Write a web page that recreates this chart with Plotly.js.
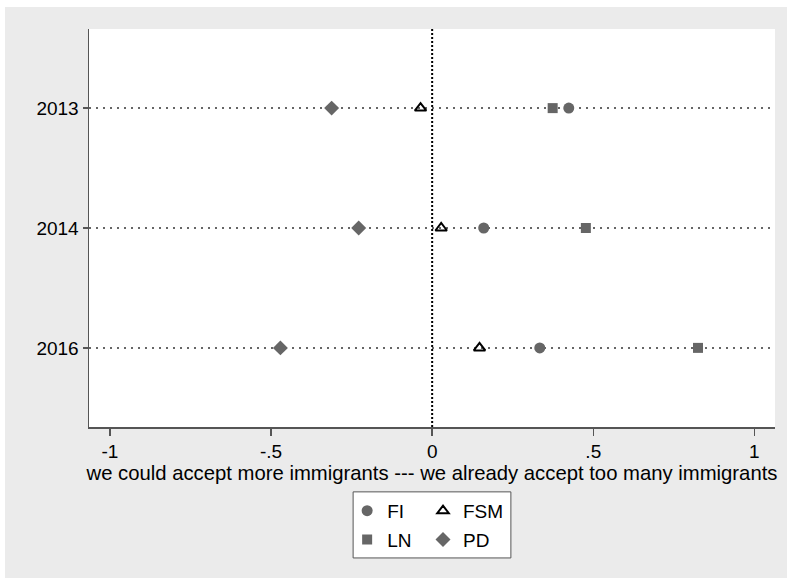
<!DOCTYPE html>
<html>
<head>
<meta charset="utf-8">
<script src="https://cdn.plot.ly/plotly-3.0.1.min.js"></script>
<style>
html, body { margin: 0; padding: 0; background: #ffffff; width: 787px; height: 578px; overflow: hidden; }
#chart { position: absolute; left: 5px; top: 7px; width: 782px; height: 571px; }
</style>
</head>
<body>
<div id="chart"></div>
<script>
// Data
const years = ["2013", "2014", "2016"];
const fiValues = [0.424, 0.160, 0.334];
const fsmValues = [-0.036, 0.028, 0.147];
const lnValues = [0.374, 0.477, 0.825];
const pdValues = [-0.312, -0.228, -0.471];
const xTickVals = [-1, -0.5, 0, 0.5, 1];
const xTickText = ["-1", "-.5", "0", ".5", "1"];
const xTitle = "we could accept more immigrants --- we already accept too many immigrants";

const FONT = "Liberation Sans, Arial, Helvetica, sans-serif";
const GRAY = "#666666";

const traces = [
  { name: "FI", x: fiValues, y: years, type: "scatter", mode: "markers", legend: "legend", legendgroup: "fi",
    marker: { symbol: "circle", size: 11, color: GRAY } },
  { name: "FSM", x: fsmValues, y: years, type: "scatter", mode: "markers", legend: "legend2", legendgroup: "fsm",
    marker: { symbol: "triangle-up-open", size: 10, color: "#000000", line: { width: 2, color: "#000000" } } },
  { name: "LN", x: lnValues, y: years, type: "scatter", mode: "markers", legend: "legend", legendgroup: "ln",
    marker: { symbol: "square", size: 10, color: GRAY } },
  { name: "PD", x: pdValues, y: years, type: "scatter", mode: "markers", legend: "legend2", legendgroup: "pd",
    marker: { symbol: "diamond", size: 11.5, color: GRAY } }
];

const layout = {
  width: 782, height: 571,
  paper_bgcolor: "#ebebeb",
  plot_bgcolor: "#ffffff",
  margin: { l: 84, r: 12, t: 22, b: 151 },
  font: { family: FONT, size: 19, color: "#000000" },
  xaxis: {
    range: [-1.065, 1.064],
    tickvals: xTickVals, ticktext: xTickText,
    showgrid: false, zeroline: false,
    showline: true, linecolor: "#555555", linewidth: 1.5,
    ticks: "outside", ticklen: 7, tickcolor: "#555555", tickwidth: 1.5,
    tickfont: { family: FONT, size: 19, color: "#000000" },
    title: { text: xTitle, font: { family: FONT, size: 20.3, color: "#000000" }, standoff: 0 }
  },
  yaxis: {
    type: "category",
    categoryorder: "array", categoryarray: years,
    range: [2.66, -0.66],
    showgrid: true, gridcolor: "#666666", gridwidth: 2, griddash: "2px,5px",
    zeroline: false,
    showline: true, linecolor: "#555555", linewidth: 1.5,
    ticks: "outside", ticklen: 5, tickcolor: "#555555", tickwidth: 1.5,
    tickfont: { family: FONT, size: 19, color: "#000000" }
  },
  shapes: [
    { type: "line", xref: "x", yref: "paper", x0: 0, x1: 0, y0: 0, y1: 1,
      line: { color: "#000000", width: 2, dash: "2px,2px" }, layer: "below" },
    { type: "rect", xref: "paper", yref: "paper", x0: 0.385, x1: 0.615, y0: -0.329, y1: -0.163,
      fillcolor: "#ffffff", line: { color: "#555555", width: 1 }, layer: "below" }
  ],
  showlegend: true,
  legend: {
    x: 0.3763, xanchor: "left", y: -0.163, yanchor: "top",
    bgcolor: "rgba(0,0,0,0)", borderwidth: 0,
    font: { family: FONT, size: 19, color: "#000000" },
    tracegroupgap: 1, itemwidth: 30, orientation: "v"
  },
  legend2: {
    x: 0.4869, xanchor: "left", y: -0.163, yanchor: "top",
    bgcolor: "rgba(0,0,0,0)", borderwidth: 0,
    font: { family: FONT, size: 19, color: "#000000" },
    tracegroupgap: 1, itemwidth: 30, orientation: "v"
  }
};

Plotly.newPlot("chart", traces, layout, { displayModeBar: false, staticPlot: true });
</script>
</body>
</html>
